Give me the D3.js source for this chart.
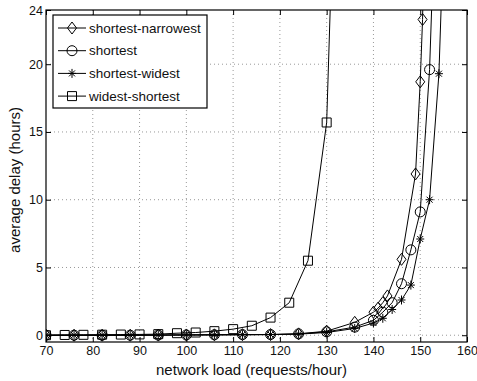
<!DOCTYPE html>
<html>
<head>
<meta charset="utf-8">
<script src="https://cdn.jsdelivr.net/npm/d3@7"></script>
<style>
body { margin: 0; background: #fff; }
text { font-family: "Liberation Sans", Arial, sans-serif; fill: #111; }
</style>
</head>
<body>
<div id="chart"></div>
<script>
var svgWidth = 477;
var svgHeight = 381;
var margin = ({top: 10, right: 10, bottom: 39, left: 46});

// data
var narrowX = [70, 76, 82, 88, 94, 100, 106, 112, 118, 124, 130, 136, 140, 141, 142, 143, 146, 149, 150, 150.5, 151.5];
var narrowY = [0, 0, 0, 0, 0.01, 0.02, 0.03, 0.04, 0.05, 0.1, 0.3, 0.95, 1.7, 2.0, 2.4, 2.9, 5.6, 11.9, 18.7, 23.3, 40];
var shortX = [70, 76, 82, 88, 94, 100, 106, 112, 118, 124, 130, 136, 140, 142, 144, 146, 148, 150, 152, 154];
var shortY = [0, 0, 0, 0, 0.01, 0.02, 0.03, 0.04, 0.05, 0.1, 0.25, 0.6, 1.1, 1.7, 2.4, 3.8, 6.3, 9.1, 19.6, 40];
var wideX = [70, 76, 82, 88, 94, 100, 106, 112, 118, 124, 130, 136, 140, 142, 144, 146, 148, 150, 152, 154, 156];
var wideY = [0, 0, 0, 0, 0.01, 0.02, 0.03, 0.04, 0.05, 0.08, 0.2, 0.5, 0.9, 1.25, 1.9, 2.6, 3.7, 7.1, 10, 19.3, 40];
var wsX = [70, 74, 78, 82, 86, 90, 94, 98, 102, 106, 110, 114, 118, 122, 126, 130, 134];
var wsY = [0, 0.02, 0.03, 0.04, 0.05, 0.06, 0.08, 0.15, 0.2, 0.3, 0.45, 0.7, 1.3, 2.4, 5.5, 15.7, 60];

var xTicks = [70, 80, 90, 100, 110, 120, 130, 140, 150, 160];
var yTicks = [0, 5, 10, 15, 20, 24];

var series = [
  {name: "shortest-narrowest", marker: "diamond", xs: narrowX, ys: narrowY},
  {name: "shortest", marker: "circle", xs: shortX, ys: shortY},
  {name: "shortest-widest", marker: "star", xs: wideX, ys: wideY},
  {name: "widest-shortest", marker: "square", xs: wsX, ys: wsY}
];

var w = svgWidth - margin.left - margin.right;
var h = svgHeight - margin.top - margin.bottom;
var x = d3.scaleLinear().domain([70, 160]).range([0, w]);
var y = d3.scaleLinear().domain([-0.5, 24]).range([h, 0]);

var svg = d3.select("#chart").append("svg")
    .attr("width", svgWidth)
    .attr("height", svgHeight);
var g = svg.append("g")
    .attr("transform", "translate(" + margin.left + "," + margin.top + ")");

svg.append("defs").append("clipPath").attr("id", "clip")
  .append("rect").attr("width", w).attr("height", h);

// dotted grid
var grid = g.append("g").attr("class", "grid");
grid.selectAll(".vg").data(xTicks.slice(1, -1)).enter().append("line")
    .attr("x1", d => x(d)).attr("x2", d => x(d))
    .attr("y1", 0).attr("y2", h)
    .attr("stroke", "#999").attr("stroke-dasharray", "1,3");
grid.selectAll(".hg").data(yTicks.slice(0, -1)).enter().append("line")
    .attr("x1", 0).attr("x2", w)
    .attr("y1", d => y(d)).attr("y2", d => y(d))
    .attr("stroke", "#999").attr("stroke-dasharray", "1,3");

function markerPath(type) {
  if (type == "diamond") return "M0,-6L4.5,0L0,6L-4.5,0Z";
  if (type == "square") return "M-4.5,-4.5H4.5V4.5H-4.5Z";
  if (type == "star") return "M-4,0H4M0,-4.5V4.5M-3,-3L3,3M-3,3L3,-3";
  return "";
}
function drawMarker(sel, type) {
  if (type == "circle") {
    sel.append("circle").attr("r", 5).attr("fill", "none").attr("stroke", "#000");
  } else {
    sel.append("path").attr("d", markerPath(type))
      .attr("fill", "none").attr("stroke", "#000");
  }
}

var plot = g.append("g").attr("clip-path", "url(#clip)");
var line = d3.line().x(d => x(d[0])).y(d => y(d[1]));
series.slice().reverse().forEach(function (s) {
  var pts = s.xs.map((v, i) => [v, s.ys[i]]);
  plot.append("path").datum(pts)
    .attr("d", line)
    .attr("fill", "none")
    .attr("stroke", "#000")
    .attr("stroke-width", 1);
  var mk = plot.selectAll(".m-" + s.marker)
    .data(pts.filter(d => d[1] <= 24.5))
    .enter().append("g")
    .attr("transform", d => "translate(" + x(d[0]) + "," + y(d[1]) + ")");
  drawMarker(mk, s.marker);
});

// axes box with inward ticks
g.append("rect").attr("width", w).attr("height", h)
  .attr("fill", "none").attr("stroke", "#000").attr("stroke-width", 1.2);
g.append("g").attr("transform", "translate(0," + h + ")")
  .call(d3.axisBottom(x).tickValues(xTicks).tickSizeInner(-5).tickSizeOuter(0).tickPadding(4))
  .call(a => a.select(".domain").remove())
  .selectAll("text").style("font-size", "12.5px");
g.append("g")
  .call(d3.axisTop(x).tickValues(xTicks).tickSizeInner(-5).tickSizeOuter(0).tickFormat(""))
  .call(a => a.select(".domain").remove());
g.append("g")
  .call(d3.axisLeft(y).tickValues(yTicks).tickSizeInner(-5).tickSizeOuter(0).tickPadding(3))
  .call(a => a.select(".domain").remove())
  .selectAll("text").style("font-size", "12.5px");
g.append("g").attr("transform", "translate(" + w + ",0)")
  .call(d3.axisRight(y).tickValues(yTicks).tickSizeInner(-5).tickSizeOuter(0).tickFormat(""))
  .call(a => a.select(".domain").remove());

// axis labels
svg.append("text")
  .attr("x", margin.left + w / 2 - 5).attr("y", 375)
  .attr("text-anchor", "middle")
  .style("font-size", "15px")
  .text("network load (requests/hour)");
svg.append("text")
  .attr("transform", "translate(20," + (margin.top + h / 2 + 4) + ") rotate(-90)")
  .attr("text-anchor", "middle")
  .style("font-size", "15px")
  .text("average delay (hours)");

// legend
var legend = svg.append("g").attr("transform", "translate(53,15)");
legend.append("rect").attr("width", 154).attr("height", 93)
  .attr("fill", "#fff").attr("stroke", "#000").attr("stroke-width", 1.2);
var li = legend.selectAll(".legend").data(series).enter().append("g")
  .attr("class", "legend")
  .attr("transform", (d, i) => "translate(0," + (13 + i * 22.7) + ")");
li.append("line").attr("x1", 5).attr("x2", 33).attr("stroke", "#000");
li.each(function (d) {
  var m = d3.select(this).append("g").attr("transform", "translate(19,0)");
  drawMarker(m, d.marker);
});
li.append("text").attr("x", 36).attr("dy", "0.35em")
  .style("font-size", "13.5px").text(d => d.name);
</script>
</body>
</html>
